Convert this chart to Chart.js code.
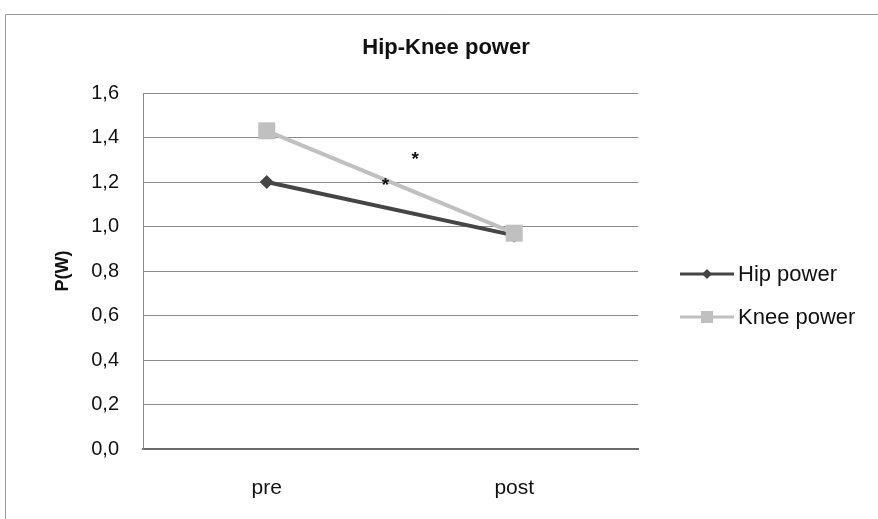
<!DOCTYPE html>
<html>
<head>
<meta charset="utf-8">
<script src="https://cdn.jsdelivr.net/npm/chart.js@4/dist/chart.umd.min.js"></script>
<style>
  html, body { margin: 0; padding: 0; background: #fff; }
  #wrap { width: 878px; height: 519px; position: relative; }
</style>
</head>
<body>
<div id="wrap"><canvas id="powerChart" width="878" height="519"></canvas></div>
<script>
const categories = ['pre', 'post'];
const hipPower   = [1.20, 0.96];
const kneePower  = [1.43, 0.97];
const yTicks     = [0, 0.2, 0.4, 0.6, 0.8, 1.0, 1.2, 1.4, 1.6];
// significance marks: [category position, P(W)]
const starMarks  = [[0.60, 1.32], [0.48, 1.20]];

const COLORS = {
  hip:   '#454545',
  knee:  '#c0c0c0',
  grid:  '#8a8a8a',
  text:  '#111111',
  frame: '#9a9a9a'
};

const FONT = "Arial, 'Liberation Sans', sans-serif";
Chart.defaults.font.family = FONT;
Chart.defaults.font.size   = 20;
Chart.defaults.color       = COLORS.text;

// ── Extra drawing: frame, title, legend, asterisks ───────
const decorPlugin = {
  id: 'decor',
  beforeDraw(chart) {
    const ctx = chart.ctx;
    ctx.save();
    ctx.fillStyle = '#fff';
    ctx.fillRect(0, 0, chart.width, chart.height);
    ctx.strokeStyle = COLORS.frame;
    ctx.lineWidth = 1;
    ctx.beginPath();
    ctx.moveTo(5.5, chart.height);
    ctx.lineTo(5.5, 14.5);
    ctx.lineTo(chart.width, 14.5);
    ctx.stroke();
    ctx.restore();
  },
  afterDraw(chart) {
    const ctx = chart.ctx;
    const x = chart.scales.x, y = chart.scales.y;
    ctx.save();
    ctx.fillStyle = COLORS.text;
    ctx.textAlign = 'center';
    ctx.textBaseline = 'middle';
    ctx.font = 'bold 22px ' + FONT;
    ctx.fillText('Hip-Knee power', 446, 48);

    ctx.font = 'bold 19px ' + FONT;
    starMarks.forEach(([cx, cy]) => {
      ctx.fillText('*', x.getPixelForValue(cx), y.getPixelForValue(cy) + 4);
    });

    // legend
    const items = [
      { label: 'Hip power',  color: COLORS.hip,  style: 'diamond', y: 274 },
      { label: 'Knee power', color: COLORS.knee, style: 'square',  y: 317 }
    ];
    ctx.textAlign = 'left';
    ctx.font = '22px ' + FONT;
    items.forEach(it => {
      ctx.strokeStyle = it.color;
      ctx.lineWidth = 3;
      ctx.beginPath();
      ctx.moveTo(680, it.y);
      ctx.lineTo(734, it.y);
      ctx.stroke();
      ctx.fillStyle = it.color;
      if (it.style === 'diamond') {
        ctx.beginPath();
        ctx.moveTo(707, it.y - 5);
        ctx.lineTo(712, it.y);
        ctx.lineTo(707, it.y + 5);
        ctx.lineTo(702, it.y);
        ctx.closePath();
        ctx.fill();
      } else {
        ctx.fillRect(701, it.y - 6, 12, 12);
      }
      ctx.fillStyle = COLORS.text;
      ctx.fillText(it.label, 738, it.y + 1);
    });
    ctx.restore();
  }
};

new Chart(document.getElementById('powerChart'), {
  type: 'line',
  data: {
    labels: categories,
    datasets: [
      {
        label:           'Hip power',
        data:            hipPower,
        order:           1,
        borderColor:     COLORS.hip,
        backgroundColor: COLORS.hip,
        borderWidth:     4,
        pointStyle:      'rectRot',
        pointRadius:     7,
        pointBorderWidth: 0
      },
      {
        label:           'Knee power',
        data:            kneePower,
        order:           0,
        borderColor:     COLORS.knee,
        backgroundColor: COLORS.knee,
        borderWidth:     4,
        pointStyle:      'rect',
        pointRadius:     12,
        pointBorderWidth: 0
      }
    ]
  },
  options: {
    responsive: false,
    animation:  false,
    layout: { padding: { left: 52, right: 240, top: 93, bottom: 0 } },
    plugins: {
      legend:  { display: false },
      title:   { display: false },
      tooltip: { enabled: false }
    },
    scales: {
      x: {
        offset: true,
        grid:   { display: false, drawTicks: false },
        border: { color: '#6a6a6a', width: 2 },
        ticks:  { color: COLORS.text, padding: 27, font: { size: 21 } },
        afterFit: s => { s.height = 70; }
      },
      y: {
        min: 0,
        max: 1.6,
        afterBuildTicks: s => { s.ticks = yTicks.map(v => ({ value: v })); },
        grid:   { color: COLORS.grid, drawTicks: false },
        border: { color: COLORS.grid },
        ticks: {
          color: COLORS.text,
          padding: 24,
          callback: v => v.toFixed(1).replace('.', ',')
        },
        title: {
          display: true,
          text: 'P(W)',
          color: COLORS.text,
          font: { size: 18, weight: 'bold' },
          padding: 0
        },
        afterFit: s => { s.width = 91; }
      }
    }
  },
  plugins: [decorPlugin]
});
</script>
</body>
</html>
